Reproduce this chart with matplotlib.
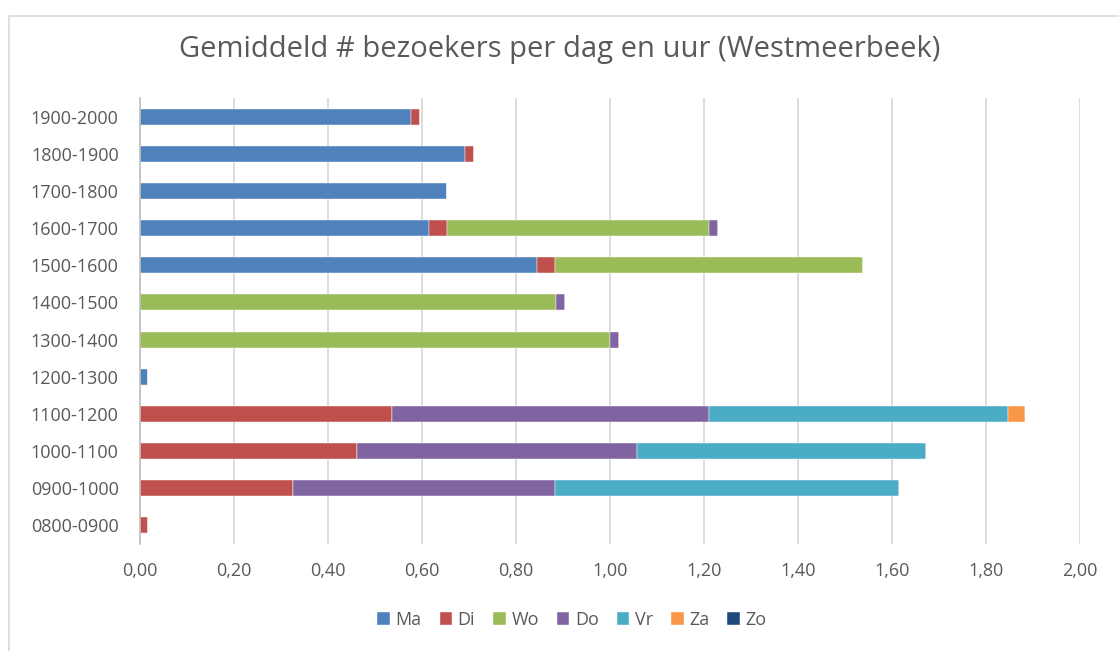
import numpy as np
import matplotlib
matplotlib.use('Agg')
import matplotlib.pyplot as plt
from matplotlib.ticker import FuncFormatter

plt.rcParams['font.family'] = ['Open Sans', 'DejaVu Sans']

# Data
hours = ['0800-0900', '0900-1000', '1000-1100', '1100-1200', '1200-1300', '1300-1400',
         '1400-1500', '1500-1600', '1600-1700', '1700-1800', '1800-1900', '1900-2000']
ma = [0, 0, 0, 0, 0.019, 0, 0, 0.846, 0.615, 0.654, 0.692, 0.577]
di = [0.019, 0.327, 0.462, 0.538, 0, 0, 0, 0.038, 0.038, 0, 0.019, 0.019]
wo = [0, 0, 0, 0, 0, 1.000, 0.885, 0.654, 0.558, 0, 0, 0]
do = [0, 0.557, 0.596, 0.673, 0, 0.019, 0.019, 0, 0.019, 0, 0, 0]
vr = [0, 0.731, 0.615, 0.635, 0, 0, 0, 0, 0, 0, 0, 0]
za = [0, 0, 0, 0.038, 0, 0, 0, 0, 0, 0, 0, 0]
zo = [0, 0, 0, 0, 0, 0, 0, 0, 0, 0, 0, 0]

series = [('Ma', ma), ('Di', di), ('Wo', wo), ('Do', do), ('Vr', vr), ('Za', za), ('Zo', zo)]
colors = ['#4F81BD', '#C0504D', '#9BBB59', '#8064A2', '#4BACC6', '#F79646', '#1F497D']

txt = '#595959'

fig = plt.figure(figsize=(11.19, 6.51), dpi=100)
ax = fig.add_axes([139.5 / 1119, 1 - 544 / 651, (1080 - 139.5) / 1119, (544 - 98) / 651])

y = np.arange(len(hours))
left = np.zeros(len(hours))
for (name, vals), c in zip(series, colors):
    vals = np.array(vals)
    ax.barh(y, vals, left=left, height=0.43, color=c, label=name,
            edgecolor='white', linewidth=0.3)
    left += vals

ax.set_xlim(0, 2.0)
ax.set_ylim(-0.5, len(hours) - 0.5)
ax.set_xticks(np.arange(0, 2.01, 0.2))
ax.xaxis.set_major_formatter(FuncFormatter(lambda v, p: f'{v:.2f}'.replace('.', ',')))
ax.set_yticks(y)
ax.set_yticklabels(hours)
ax.tick_params(axis='both', length=0, labelsize=13, colors=txt)
ax.tick_params(axis='x', pad=13)
ax.tick_params(axis='y', pad=15)

ax.grid(axis='x', color='#D9D9D9', linewidth=1.3)
ax.set_axisbelow(True)
for s in ['top', 'right', 'bottom']:
    ax.spines[s].set_visible(False)
ax.spines['left'].set_color('#BFBFBF')
ax.spines['left'].set_linewidth(1.2)

fig.suptitle('Gemiddeld # bezoekers per dag en uur (Westmeerbeek)', y=1 - 49 / 651,
             va='center', fontsize=21, color=txt)

fig.legend(loc='center', bbox_to_anchor=(572 / 1119, 1 - 620 / 651), ncol=7,
           frameon=False, fontsize=13, labelcolor=txt, handlelength=0.7,
           handleheight=0.7, handletextpad=0.3, columnspacing=1.0)

# chart border
fig.add_artist(plt.Rectangle((9 / 1119, -0.05), 1.2, 1 - 16 / 651 + 0.05,
                             transform=fig.transFigure, fill=False,
                             edgecolor='#D9D9D9', linewidth=1.2))

fig.savefig('out.png', dpi=100)
